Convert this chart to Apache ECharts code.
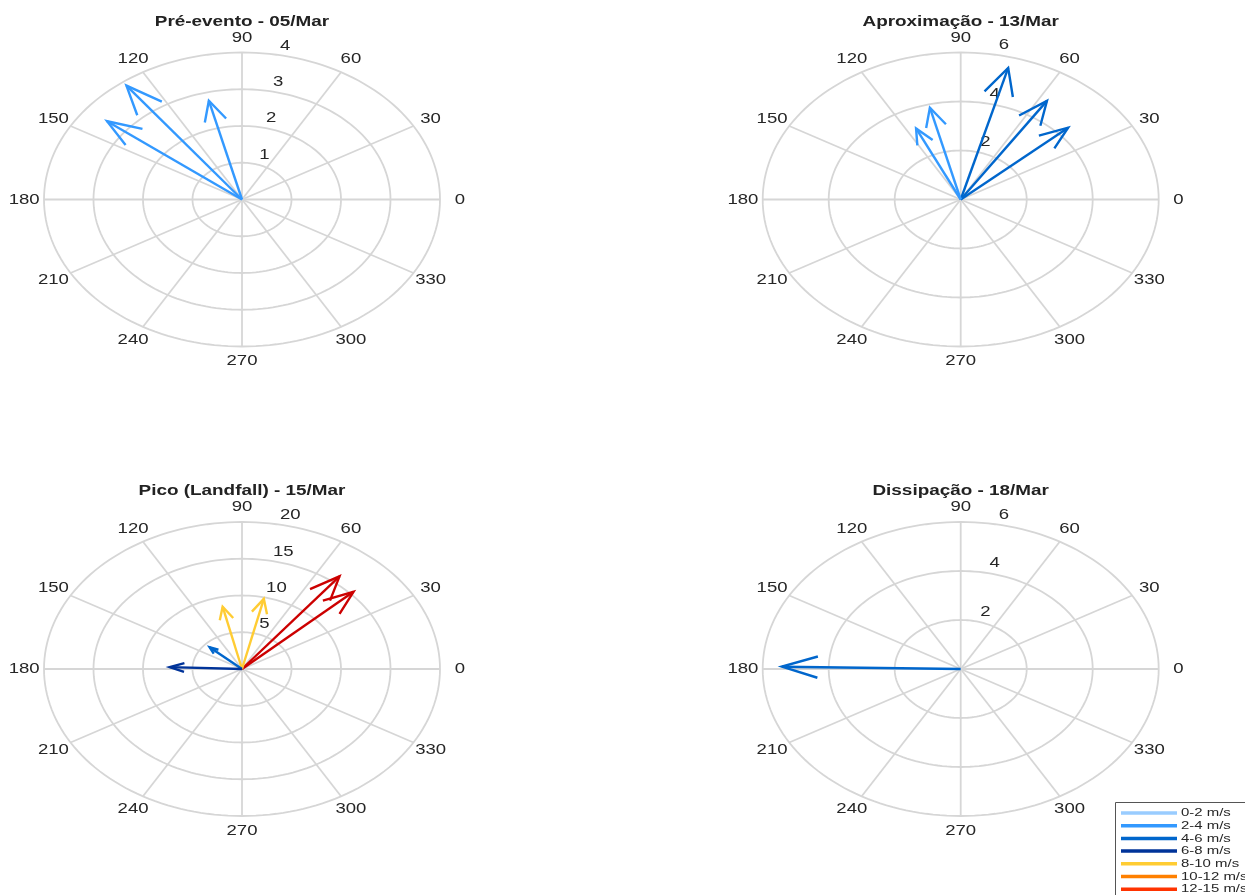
<!DOCTYPE html>
<html>
<head>
<meta charset="utf-8">
<script src="https://cdn.jsdelivr.net/npm/echarts@6/dist/echarts.min.js"></script>
<style>
  html, body { margin: 0; padding: 0; background: #ffffff; }
  #chart { width: 1245px; height: 895px; }
</style>
</head>
<body>
<div id="chart"></div>
<script>
// ---- Wind vectors per stage: direction (deg, counter-clockwise from east) and speed (m/s)
const panelTitles = ['Pré-evento - 05/Mar', 'Aproximação - 13/Mar', 'Pico (Landfall) - 15/Mar', 'Dissipação - 18/Mar'];

const preDir = [127, 142, 104];
const preSpd = [3.88, 3.46, 2.77];

const aproxDir = [75, 57, 42, 104, 115];
const aproxSpd = [5.56, 4.80, 4.38, 3.86, 3.20];

const picoDir = [52, 43, 103, 77, 138, 178];
const picoSpd = [16.0, 15.4, 8.7, 9.8, 4.4, 7.3];

const dissDir = [179];
const dissSpd = [5.42];

// ---- Radial ticks (last tick is the outer ring) for each stage
const preTicks = [1, 2, 3, 4];
const aproxTicks = [2, 4, 6];
const picoTicks = [5, 10, 15, 20];
const dissTicks = [2, 4, 6];

// ---- Angular ticks
const angleTicks = [0, 30, 60, 90, 120, 150, 180, 210, 240, 270, 300, 330];

// ---- Speed classes
const speedEdges = [0, 2, 4, 6, 8, 10, 12, 15];
const speedColors = ['#99ccff', '#3399ff', '#0066cc', '#003399', '#ffcc33', '#ff8000', '#ff3300', '#cc0000'];
const legendLabels = ['0-2 m/s', '2-4 m/s', '4-6 m/s', '6-8 m/s', '8-10 m/s', '10-12 m/s', '12-15 m/s'];

// ---- Layout
const FONT = '"Liberation Sans", Arial, Helvetica, sans-serif';
const SX = 1.35;            // horizontal stretch of the whole figure
const SXL = 1.28;           // stretch used for tick labels
const RX = 198, RY = 147;   // outer ring half-axes in px
const TEXT = '#262626';
const GRID = '#d6d6d6';
const centers = [[242, 199.5], [960.7, 199.5], [242, 669], [960.7, 669]];
const titleY = [22, 22, 491, 491];

const stages = [
  { dir: preDir, spd: preSpd, ticks: preTicks },
  { dir: aproxDir, spd: aproxSpd, ticks: aproxTicks },
  { dir: picoDir, spd: picoSpd, ticks: picoTicks },
  { dir: dissDir, spd: dissSpd, ticks: dissTicks }
];

const D2R = Math.PI / 180;

function speedColor(s) {
  let k = 0;
  for (let i = 0; i < speedEdges.length; i++) if (s >= speedEdges[i]) k = i;
  return speedColors[k];
}

function ringRenderer(rinc) {
  return function (params, api) {
    const r = api.value(0);
    const pts = [];
    for (let a = 0; a <= 360; a += 2) {
      pts.push(api.coord([r * Math.cos(a * D2R), r * Math.sin(a * D2R)]));
    }
    const rl = r + rinc / 20;
    const p = api.coord([rl * Math.cos(82 * D2R), rl * Math.sin(82 * D2R)]);
    return {
      type: 'group',
      children: [
        { type: 'polyline', shape: { points: pts }, style: { stroke: GRID, lineWidth: 1.8, fill: null } },
        { type: 'text', x: p[0] + 10, y: p[1] + 1, scaleX: SXL,
          style: { text: String(r), fill: TEXT, fontSize: 14.5, fontFamily: FONT, align: 'left', verticalAlign: 'bottom' } }
      ]
    };
  };
}

function spokeRenderer(R) {
  return function (params, api) {
    const a = api.value(0);
    const c = Math.cos(a * D2R), s = Math.sin(a * D2R);
    const p0 = api.coord([0, 0]);
    const p1 = api.coord([R * c, R * s]);
    const pl = api.coord([1.1 * R * c, 1.1 * R * s]);
    return {
      type: 'group',
      children: [
        { type: 'line', shape: { x1: p0[0], y1: p0[1], x2: p1[0], y2: p1[1] }, style: { stroke: GRID, lineWidth: 1.8 } },
        { type: 'text', x: pl[0], y: pl[1], scaleX: SXL,
          style: { text: String(a), fill: TEXT, fontSize: 14.5, fontFamily: FONT, align: 'center', verticalAlign: 'middle' } }
      ]
    };
  };
}

function arrowRenderer(params, api) {
  const a = api.value(0), s = api.value(1);
  const u = s * Math.cos(a * D2R), v = s * Math.sin(a * D2R);
  const o = api.coord([0, 0]);
  const tip = api.coord([u, v]);
  const h1 = api.coord([0.8 * u - 0.08 * v, 0.8 * v + 0.08 * u]);
  const h2 = api.coord([0.8 * u + 0.08 * v, 0.8 * v - 0.08 * u]);
  const col = speedColor(s);
  return {
    type: 'group',
    children: [
      { type: 'line', shape: { x1: o[0], y1: o[1], x2: tip[0], y2: tip[1] }, style: { stroke: col, lineWidth: 2.4 } },
      { type: 'polyline', shape: { points: [h1, tip, h2] }, style: { stroke: col, lineWidth: 2.4, fill: null, lineJoin: 'miter' } }
    ]
  };
}

const grids = [], xAxes = [], yAxes = [], series = [], graphics = [];

stages.forEach(function (st, i) {
  const R = st.ticks[st.ticks.length - 1];
  const rinc = st.ticks[1] - st.ticks[0];
  const c = centers[i];
  grids.push({ left: c[0] - RX, top: c[1] - RY, width: 2 * RX, height: 2 * RY });
  xAxes.push({ gridIndex: i, type: 'value', min: -R, max: R, show: false });
  yAxes.push({ gridIndex: i, type: 'value', min: -R, max: R, show: false });

  series.push({
    type: 'custom', xAxisIndex: i, yAxisIndex: i, z: 1, silent: true,
    renderItem: spokeRenderer(R),
    data: angleTicks.map(function (a) { return [a, 0]; })
  });
  series.push({
    type: 'custom', xAxisIndex: i, yAxisIndex: i, z: 2, silent: true,
    renderItem: ringRenderer(rinc),
    data: st.ticks.map(function (t) { return [t, 0]; })
  });
  series.push({
    type: 'custom', xAxisIndex: i, yAxisIndex: i, z: 5, silent: true,
    renderItem: arrowRenderer,
    data: st.dir.map(function (d, k) { return [d, st.spd[k]]; })
  });

  graphics.push({
    type: 'text', x: c[0], y: titleY[i], scaleX: SX,
    style: { text: panelTitles[i], fill: '#222222', fontSize: 14, fontWeight: 'bold', fontFamily: FONT, align: 'center', verticalAlign: 'middle' }
  });
});

// Legend box with speed classes
const legendChildren = [
  { type: 'rect', shape: { x: 1115.5, y: 802.5, width: 200, height: 120 }, style: { fill: '#ffffff', stroke: '#555555', lineWidth: 1 } }
];
legendLabels.forEach(function (lab, k) {
  const y = 813 + 12.7 * k;
  legendChildren.push({ type: 'line', shape: { x1: 1121, y1: y, x2: 1177, y2: y }, style: { stroke: speedColors[k], lineWidth: 3.5 } });
  legendChildren.push({ type: 'text', x: 1181, y: y, scaleX: 1.3,
    style: { text: lab, fill: TEXT, fontSize: 11.5, fontFamily: FONT, align: 'left', verticalAlign: 'middle' } });
});
graphics.push({ type: 'group', children: legendChildren, z: 10 });

const chart = echarts.init(document.getElementById('chart'), null, { renderer: 'canvas' });
chart.setOption({
  animation: false,
  backgroundColor: '#ffffff',
  grid: grids,
  xAxis: xAxes,
  yAxis: yAxes,
  series: series,
  graphic: graphics
});
</script>
</body>
</html>
